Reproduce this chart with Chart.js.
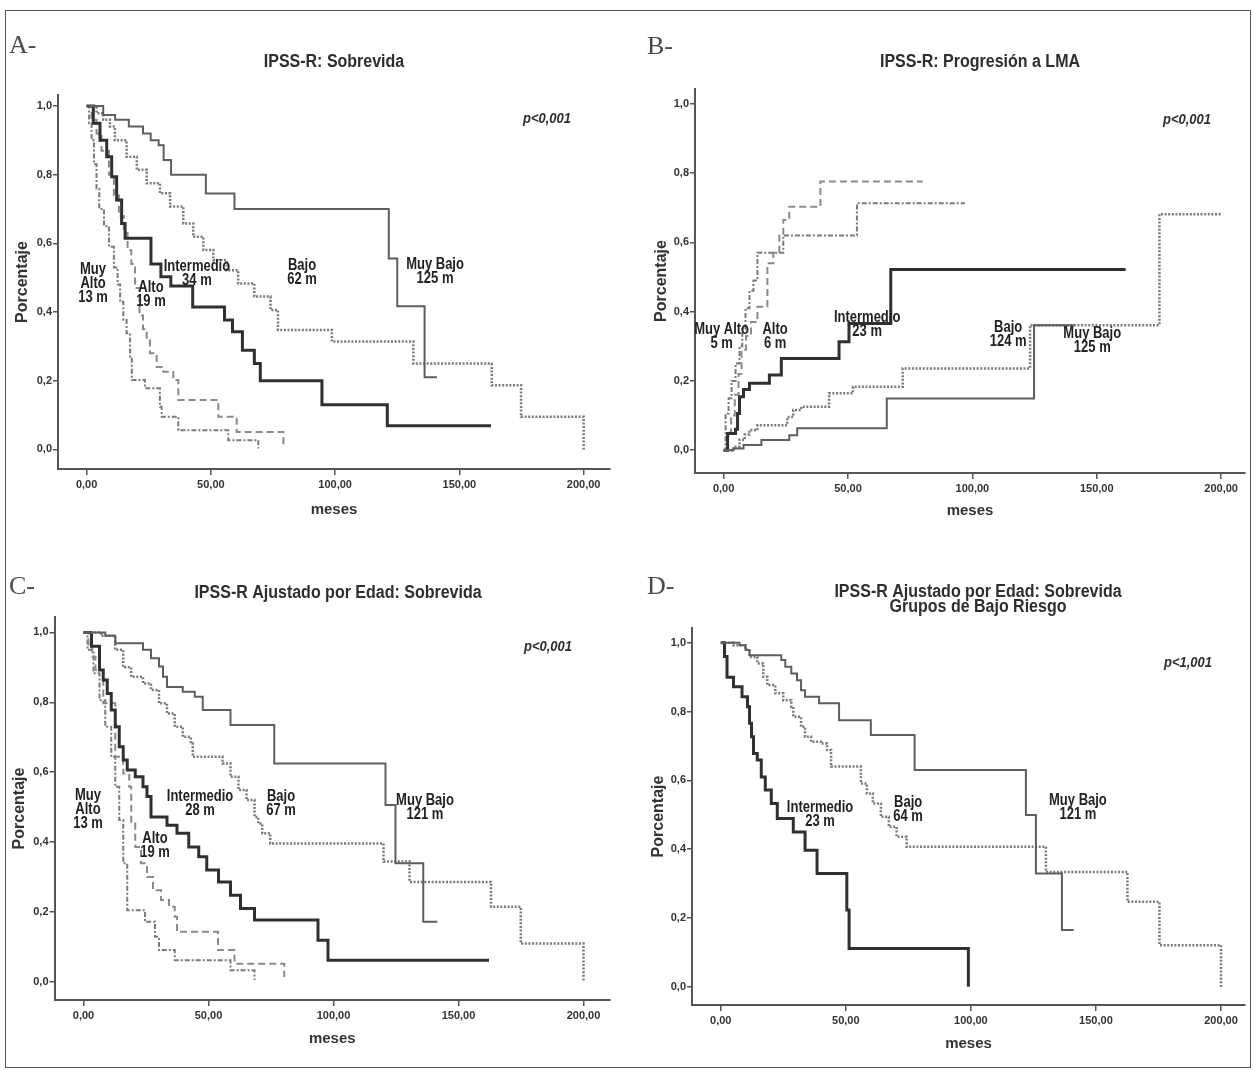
<!DOCTYPE html>
<html>
<head>
<meta charset="utf-8">
<script src="https://cdn.jsdelivr.net/npm/chart.js@4.4.1/dist/chart.umd.min.js"></script>
<style>
body { margin: 0; background: #fff; }
#frame { position: absolute; left: 5px; top: 10px; width: 1244px; height: 1056px; border: 1.5px solid #555; }
canvas { position: absolute; }
</style>
</head>
<body>
<div id="frame"></div>
<canvas id="cA" width="627" height="540" style="left:0;top:0"></canvas>
<canvas id="cB" width="627" height="540" style="left:627px;top:0"></canvas>
<canvas id="cC" width="627" height="530" style="left:0;top:540px"></canvas>
<canvas id="cD" width="627" height="530" style="left:627px;top:540px"></canvas>
<script>
// ticks
var yTicks = [0, 0.2, 0.4, 0.6, 0.8, 1.0];
var yTickLabels = ['0,0', '0,2', '0,4', '0,6', '0,8', '1,0'];
var xTicks = [0, 50, 100, 150, 200];
var xTickLabels = ['0,00', '50,00', '100,00', '150,00', '200,00'];

var groups = ['Muy Bajo', 'Bajo', 'Intermedio', 'Alto', 'Muy Alto'];

// [meses, porcentaje] - value after the step at that time
// A: IPSS-R sobrevida
var aMuyBajo = [[0,1],[6.7,0.974],[11.5,0.96],[17,0.94],[22.7,0.92],[25.8,0.9],[29,0.886],[31,0.843],[34,0.8],[48,0.745],[59.5,0.7],[121.6,0.556],[125,0.417],[136,0.21],[141,0.21]];
var aBajo = [[0,1],[4,0.979],[6.7,0.96],[9.4,0.94],[11.4,0.9],[16.1,0.852],[20.2,0.814],[24.2,0.775],[29.5,0.746],[33.6,0.707],[38.9,0.658],[42.9,0.619],[47,0.581],[51,0.551],[56.4,0.522],[61,0.483],[67.5,0.445],[74,0.406],[77,0.348],[98.7,0.314],[131.5,0.25],[163,0.187],[174.8,0.095],[200,0]];
var aIntermedio = [[0,1],[2.7,0.95],[5.4,0.9],[8.1,0.852],[10.1,0.794],[12.1,0.726],[14.1,0.658],[15.5,0.615],[25.9,0.54],[29.9,0.503],[33.9,0.476],[42.7,0.415],[55.5,0.377],[58.7,0.343],[62.7,0.289],[67.5,0.25],[69.9,0.2],[94.7,0.13],[121,0.069],[162.7,0.069]];
var aAlto = [[0,1],[2,0.96],[4,0.92],[6,0.87],[9,0.8],[11,0.74],[13,0.68],[15,0.63],[16.5,0.58],[18,0.54],[19.5,0.47],[21.3,0.39],[22.7,0.35],[24.2,0.318],[25.5,0.28],[28.2,0.24],[30.9,0.226],[34.9,0.202],[36.9,0.144],[53,0.095],[60.4,0.051],[79.2,0.005]];
var aMuyAlto = [[0,1],[1,0.95],[2,0.9],[3,0.83],[4,0.76],[5.1,0.7],[7,0.65],[9,0.59],[11,0.53],[12.5,0.48],[13.5,0.43],[14.8,0.377],[16.1,0.338],[17.5,0.27],[18.2,0.202],[23.5,0.178],[29.5,0.124],[30.2,0.095],[36.9,0.056],[57,0.027],[69.1,0.003]];

// B: IPSS-R progresion a LMA
var bMuyBajo = [[0,0],[4,0.005],[8,0.015],[15.2,0.029],[26.4,0.043],[29.6,0.063],[65.6,0.149],[124.8,0.361],[141,0.361]];
var bBajo = [[0,0],[4,0.01],[6.4,0.03],[8.5,0.045],[10.4,0.058],[13.6,0.072],[25.6,0.096],[28,0.116],[31.2,0.125],[42.4,0.164],[52,0.183],[72,0.236],[123.2,0.361],[175.2,0.681],[200,0.681]];
var bIntermedio = [[0,0],[1.6,0.048],[4.8,0.06],[5.6,0.106],[6.4,0.154],[8,0.175],[10.4,0.193],[18.4,0.217],[23.2,0.265],[46.4,0.313],[50.4,0.366],[67.2,0.522],[161.6,0.522]];
var bAlto = [[0,0],[1.5,0.05],[3,0.1],[4.5,0.16],[6,0.22],[7.2,0.29],[9,0.33],[11,0.37],[13.6,0.414],[17.6,0.54],[20,0.57],[22.4,0.62],[24,0.665],[26.4,0.703],[38.9,0.776],[80,0.776]];
var bMuyAlto = [[0,0],[0.8,0.106],[2,0.15],[3.2,0.2],[4.8,0.25],[6.4,0.3],[7.5,0.35],[8.8,0.41],[10.4,0.46],[12,0.49],[13.6,0.57],[24,0.62],[53.6,0.713],[97,0.713]];

// C: IPSS-R ajustado por edad
var cMuyBajo = [[0,1],[8.7,0.99],[12.7,0.969],[23.8,0.95],[27,0.926],[30.2,0.902],[31.8,0.873],[33.4,0.844],[39.7,0.83],[44.5,0.816],[47.7,0.778],[58.8,0.735],[76.3,0.625],[120.8,0.506],[124.8,0.339],[135.9,0.172],[141.5,0.172]];
var cBajo = [[0,1],[7.1,0.99],[12.7,0.95],[15.9,0.9],[19.1,0.873],[23.8,0.854],[27,0.835],[30.2,0.797],[33.4,0.768],[36.5,0.73],[39.7,0.701],[42.9,0.682],[43.7,0.644],[55.6,0.625],[58.8,0.587],[62,0.549],[65.2,0.52],[68.4,0.472],[69.9,0.453],[71.5,0.425],[74.7,0.396],[120,0.344],[130.4,0.286],[163,0.215],[174.9,0.11],[200,0]];
var cIntermedio = [[0,1],[3.2,0.96],[6.4,0.892],[7.9,0.864],[9.5,0.825],[11.1,0.778],[12.7,0.73],[14.3,0.673],[15.9,0.635],[17.5,0.606],[20.7,0.587],[23.8,0.558],[25.4,0.53],[27,0.472],[33.4,0.448],[37.4,0.425],[42.1,0.386],[46.1,0.358],[49.3,0.32],[54,0.286],[58.8,0.248],[62.8,0.21],[68.4,0.177],[93.8,0.119],[97.8,0.062],[162.2,0.062]];
var cAlto = [[0,1],[2,0.96],[3.5,0.93],[4.8,0.892],[7.9,0.797],[12.7,0.644],[15.9,0.596],[18.3,0.558],[19.1,0.453],[20.7,0.386],[23,0.339],[25.4,0.3],[27.8,0.262],[31,0.234],[34.2,0.215],[36.5,0.186],[37.4,0.143],[53.8,0.091],[60.4,0.052],[80.3,0.014]];
var cMuyAlto = [[0,1],[1.6,0.95],[4,0.883],[6.4,0.806],[8.7,0.73],[11.1,0.644],[12.7,0.558],[14.3,0.463],[15.9,0.339],[17.5,0.205],[24.6,0.172],[28.6,0.129],[30.2,0.091],[36.5,0.062],[58.8,0.033],[68.4,0.005]];

// D: grupos de bajo riesgo
var dMuyBajo = [[0,1],[7.5,0.993],[9.9,0.979],[11.5,0.964],[24.2,0.95],[25.8,0.93],[28.2,0.911],[30.5,0.891],[32.1,0.862],[33.7,0.843],[39.3,0.824],[47.3,0.775],[60,0.732],[77.5,0.63],[122,0.499],[126,0.329],[136.4,0.165],[141.1,0.165]];
var dBajo = [[0,1],[5.1,0.993],[9.9,0.98],[11.5,0.959],[14.6,0.94],[17,0.901],[18.6,0.877],[21.8,0.853],[25,0.833],[28.2,0.814],[29,0.785],[32.1,0.756],[33.7,0.727],[36.1,0.712],[40.1,0.707],[42.5,0.688],[44.1,0.64],[56,0.591],[58.4,0.562],[60.8,0.533],[64,0.494],[67.2,0.465],[70.3,0.436],[74.3,0.407],[130,0.334],[162.6,0.247],[175.4,0.121],[200,0]];
var dIntermedio = [[0,1],[1.5,0.96],[2.5,0.9],[5.1,0.872],[8.5,0.843],[10.7,0.814],[11.5,0.766],[12.3,0.727],[13.1,0.678],[14.6,0.659],[16.2,0.61],[17.8,0.572],[20.2,0.533],[22.6,0.489],[29,0.45],[33.7,0.397],[38.5,0.329],[50.4,0.223],[51.3,0.111],[99,0]];

var SANS = '"Liberation Sans", Arial, sans-serif';
Chart.defaults.font.family = SANS;

// line style per group
var styles = {
    'Muy Bajo': { color: '#5e5e5e', width: 2, dash: [] },
    'Bajo': { color: '#7a7a7a', width: 2.5, dash: [2, 1.6] },
    'Intermedio': { color: '#303030', width: 3, dash: [] },
    'Alto': { color: '#8a8a8a', width: 2, dash: [7, 4] },
    'Muy Alto': { color: '#7a7a7a', width: 2, dash: [5, 2, 2, 2] }
};

function stretchText(ctx, text, x, y, sy) {
    ctx.save();
    ctx.translate(x, y);
    ctx.scale(1, sy);
    ctx.fillText(text, 0, 0);
    ctx.restore();
}

var kmText = {
    id: 'kmText',
    afterDraw: function (chart, args, o) {
        var ctx = chart.ctx;
        var sx = chart.scales.x, sy = chart.scales.y;
        ctx.save();
        ctx.textBaseline = 'middle';
        // panel letter
        ctx.textAlign = 'left';
        ctx.fillStyle = '#4a4a4a';
        ctx.font = '26px "Liberation Serif", serif';
        ctx.fillText(o.letter, o.letterPos[0], o.letterPos[1]);
        // title
        ctx.textAlign = 'center';
        ctx.fillStyle = '#2e2e2e';
        ctx.font = 'bold 16px ' + SANS;
        o.title.forEach(function (line, i) {
            stretchText(ctx, line, o.titlePos[0], o.titlePos[1] + i * 15, 1.1);
        });
        // p value
        ctx.font = 'italic bold 13px ' + SANS;
        stretchText(ctx, o.p, o.pPos[0], o.pPos[1], 1.1);
        // group labels
        ctx.fillStyle = '#222';
        ctx.font = 'bold 13px ' + SANS;
        o.labels.forEach(function (lb) {
            var px = sx.getPixelForValue(lb.x);
            var py = sy.getPixelForValue(lb.y);
            lb.t.forEach(function (line, i) {
                stretchText(ctx, line, px, py + i * 14, 1.25);
            });
        });
        ctx.restore();
    }
};

function makePanel(id, series, g, txt) {
    var datasets = series.map(function (s, i) {
        var st = styles[groups[i]];
        return {
            label: groups[i],
            data: s ? s.map(function (p) { return { x: p[0], y: p[1] }; }) : [],
            borderColor: st.color,
            borderWidth: st.width,
            borderDash: st.dash,
            borderCapStyle: 'butt',
            stepped: true,
            pointRadius: 0,
            fill: false
        };
    }).filter(function (d) { return d.data.length; });

    return new Chart(document.getElementById(id).getContext('2d'), {
        type: 'line',
        data: { datasets: datasets },
        plugins: [kmText],
        options: {
            responsive: false,
            animation: false,
            devicePixelRatio: 1,
            layout: { padding: g.pad },
            plugins: {
                legend: { display: false },
                tooltip: { enabled: false },
                kmText: txt
            },
            scales: {
                x: {
                    type: 'linear',
                    min: g.x[0], max: g.x[1],
                    afterBuildTicks: function (sc) { sc.ticks = xTicks.map(function (v) { return { value: v }; }); },
                    afterFit: function (sc) { sc.height = g.xH; },
                    ticks: {
                        callback: function (v, i) { return xTickLabels[i]; },
                        font: { size: 11, weight: 'bold' }, color: '#333', padding: 3, maxRotation: 0
                    },
                    grid: { display: true, drawOnChartArea: false, drawTicks: true, tickLength: 6, color: '#555', lineWidth: 1.5 },
                    border: { display: true, color: '#555', width: 2 },
                    title: { display: true, text: 'meses', font: { size: 15, weight: 'bold' }, color: '#333', padding: 0 }
                },
                y: {
                    type: 'linear',
                    min: g.y[0], max: g.y[1],
                    afterBuildTicks: function (sc) { sc.ticks = yTicks.map(function (v) { return { value: v }; }); },
                    afterFit: function (sc) { sc.width = g.yW; },
                    ticks: {
                        callback: function (v, i) { return yTickLabels[i]; },
                        font: { size: 11, weight: 'bold' }, color: '#333', padding: 1
                    },
                    grid: { display: true, drawOnChartArea: false, drawTicks: true, tickLength: 5, color: '#555', lineWidth: 1.5 },
                    border: { display: true, color: '#555', width: 2 },
                    title: { display: true, text: 'Porcentaje', font: { size: 16, weight: 'bold' }, color: '#333', padding: { top: g.yTitlePad, bottom: 0 } }
                }
            }
        }
    });
}

makePanel('cA', [aMuyBajo, aBajo, aIntermedio, aAlto, aMuyAlto],
    { x: [-11.5, 210.6], y: [-0.057, 1.032], pad: { left: 10, top: 95, right: 17, bottom: 21 }, yW: 48, xH: 50, yTitlePad: 3 },
    {
        letter: 'A-', letterPos: [9, 46],
        title: ['IPSS-R: Sobrevida'], titlePos: [334, 62],
        p: 'p<0,001', pPos: [547, 119],
        labels: [
            { t: ['Muy', 'Alto', '13 m'], x: 2.6, y: 0.525 },
            { t: ['Alto', '19 m'], x: 25.9, y: 0.47 },
            { t: ['Intermedio', '34 m'], x: 44.4, y: 0.532 },
            { t: ['Bajo', '62 m'], x: 86.7, y: 0.535 },
            { t: ['Muy Bajo', '125 m'], x: 140.2, y: 0.537 }
        ]
    });

makePanel('cB', [bMuyBajo, bBajo, bIntermedio, bAlto, bMuyAlto],
    { x: [-11.5, 209.6], y: [-0.066, 1.043], pad: { left: 20, top: 89, right: 9, bottom: 20 }, yW: 48, xH: 47, yTitlePad: 5 },
    {
        letter: 'B-', letterPos: [20, 47],
        title: ['IPSS-R: Progresión a LMA'], titlePos: [353, 62],
        p: 'p<0,001', pPos: [560, 120],
        labels: [
            { t: ['Muy Alto', '5 m'], x: -0.8, y: 0.347 },
            { t: ['Alto', '6 m'], x: 20.7, y: 0.347 },
            { t: ['Intermedio', '23 m'], x: 57.7, y: 0.384 },
            { t: ['Bajo', '124 m'], x: 114.4, y: 0.355 },
            { t: ['Muy Bajo', '125 m'], x: 148.2, y: 0.338 }
        ]
    });

makePanel('cC', [cMuyBajo, cBajo, cIntermedio, cAlto, cMuyAlto],
    { x: [-11.6, 210.6], y: [-0.052, 1.044], pad: { left: 6.5, top: 77, right: 17, bottom: 22 }, yW: 48, xH: 48, yTitlePad: 3 },
    {
        letter: 'C-', letterPos: [9, 47],
        title: ['IPSS-R Ajustado por Edad: Sobrevida'], titlePos: [338, 53],
        p: 'p<0,001', pPos: [548, 107],
        labels: [
            { t: ['Muy', 'Alto', '13 m'], x: 1.8, y: 0.534 },
            { t: ['Alto', '19 m'], x: 28.6, y: 0.411 },
            { t: ['Intermedio', '28 m'], x: 46.6, y: 0.529 },
            { t: ['Bajo', '67 m'], x: 79, y: 0.529 },
            { t: ['Muy Bajo', '121 m'], x: 136.6, y: 0.52 }
        ]
    });

makePanel('cD', [dMuyBajo, dBajo, dIntermedio, null, null],
    { x: [-11.5, 209.6], y: [-0.053, 1.043], pad: { left: 17, top: 88, right: 9, bottom: 17 }, yW: 48, xH: 48, yTitlePad: 5 },
    {
        letter: 'D-', letterPos: [20, 47],
        title: ['IPSS-R Ajustado por Edad: Sobrevida', 'Grupos de Bajo Riesgo'], titlePos: [351, 52],
        p: 'p<1,001', pPos: [561, 123],
        labels: [
            { t: ['Intermedio', '23 m'], x: 39.7, y: 0.522 },
            { t: ['Bajo', '64 m'], x: 74.9, y: 0.537 },
            { t: ['Muy Bajo', '121 m'], x: 142.8, y: 0.54 }
        ]
    });
</script>
</body>
</html>
